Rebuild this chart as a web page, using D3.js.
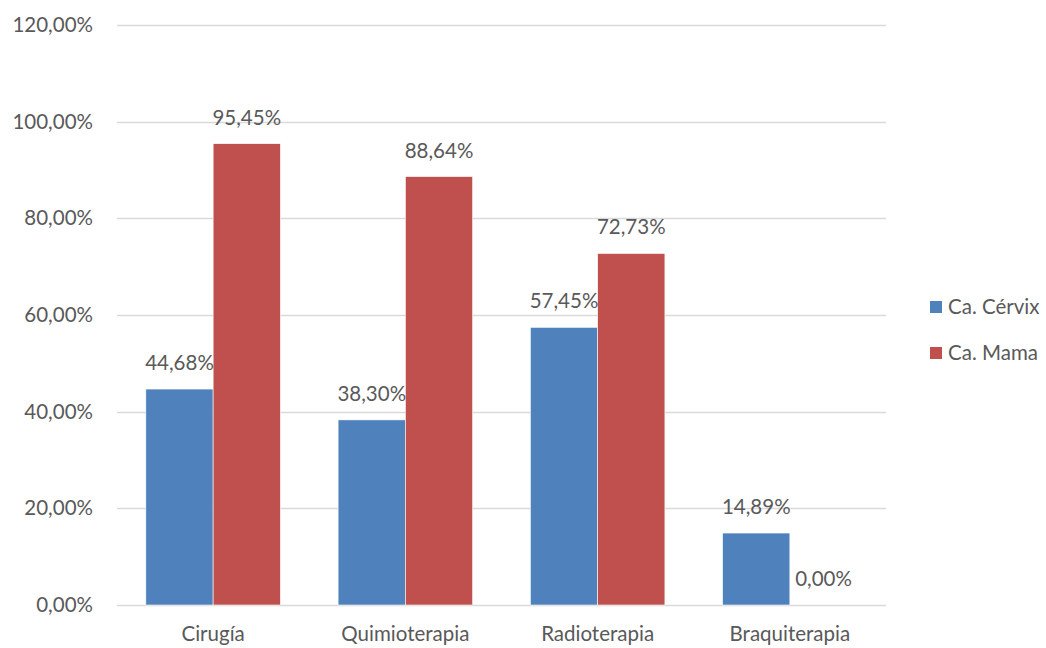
<!DOCTYPE html>
<html>
<head>
<meta charset="utf-8">
<script src="https://cdn.jsdelivr.net/npm/d3@7"></script>
<style>
html,body{margin:0;padding:0;background:#fff;}
text{font-family:Lato,"Open Sans",sans-serif;fill:#595959;}
</style>
</head>
<body>
<svg id="chart" width="1046" height="648"></svg>
<script>
const categories = ["Cirugía", "Quimioterapia", "Radioterapia", "Braquiterapia"];
const seriesNames = ["Ca. Cérvix", "Ca. Mama"];
const cervix = [44.68, 38.30, 57.45, 14.89];
const mama = [95.45, 88.64, 72.73, 0.00];
const yTicks = [0, 20, 40, 60, 80, 100, 120];
const colors = ["#4F81BD", "#C0504D"];

const svg = d3.select("#chart");
const mLeft = 117, mRight = 886, mTop = 25, mBottom = 605;
const fs = "20.5px";

const fmt = v => v.toFixed(2).replace(".", ",") + "%";

const x0 = d3.scaleBand().domain(categories).range([mLeft, mRight]).paddingInner(0.3).paddingOuter(0.15);
const x1 = d3.scaleBand().domain(seriesNames).range([0, x0.bandwidth()]);
const y = d3.scaleLinear().domain([0, 120]).range([mBottom, mTop]);

// gridlines
svg.append("g").selectAll("line").data(yTicks).join("line")
  .attr("x1", mLeft).attr("x2", mRight)
  .attr("y1", d => Math.round(y(d)) + 0.5).attr("y2", d => Math.round(y(d)) + 0.5)
  .attr("stroke", "#D9D9D9").attr("stroke-width", 1.3);

// y axis labels
const yAxis = d3.axisLeft(y).tickValues(yTicks).tickFormat(d => fmt(d)).tickSize(0).tickPadding(0);
const ya = svg.append("g").attr("transform", `translate(93,0)`).call(yAxis);
ya.select(".domain").remove();
ya.selectAll("text").style("font-size", fs).attr("fill", "#595959").style("font-family", "Lato");

// x axis labels
const xAxis = d3.axisBottom(x0).tickSize(0).tickPadding(0);
const xa = svg.append("g").attr("transform", `translate(0,${mBottom + 21})`).call(xAxis);
xa.select(".domain").remove();
xa.selectAll("text").style("font-size", fs).attr("fill", "#595959").style("font-family", "Lato");

const data = categories.map((c, i) => ({cat: c, vals: [cervix[i], mama[i]]}));

const groups = svg.append("g").selectAll("g").data(data).join("g")
  .attr("transform", d => `translate(${x0(d.cat)},0)`);

groups.selectAll("rect").data(d => d.vals.map((v, j) => ({v, s: seriesNames[j], j}))).join("rect")
  .attr("x", d => x1(d.s)).attr("width", x1.bandwidth())
  .attr("y", d => y(d.v)).attr("height", d => y(0) - y(d.v))
  .attr("fill", d => colors[d.j])
  .attr("stroke", "#fff").attr("stroke-width", 0.6);

groups.selectAll("text.lbl").data(d => d.vals.map((v, j) => ({v, s: seriesNames[j], j}))).join("text")
  .attr("class", "lbl")
  .attr("x", d => x1(d.s) + x1.bandwidth() / 2)
  .attr("y", d => y(d.v) - 19)
  .attr("text-anchor", "middle")
  .style("font-size", fs)
  .text(d => fmt(d.v));

// legend
const legend = svg.append("g").selectAll("g").data(seriesNames).join("g")
  .attr("transform", (d, i) => `translate(930,${301 + i * 46})`);
legend.append("rect").attr("width", 12).attr("height", 12).attr("fill", (d, i) => colors[i]);
legend.append("text").attr("x", 18).attr("y", 6).attr("dy", "0.35em").style("font-size", fs).text(d => d);
</script>
</body>
</html>
